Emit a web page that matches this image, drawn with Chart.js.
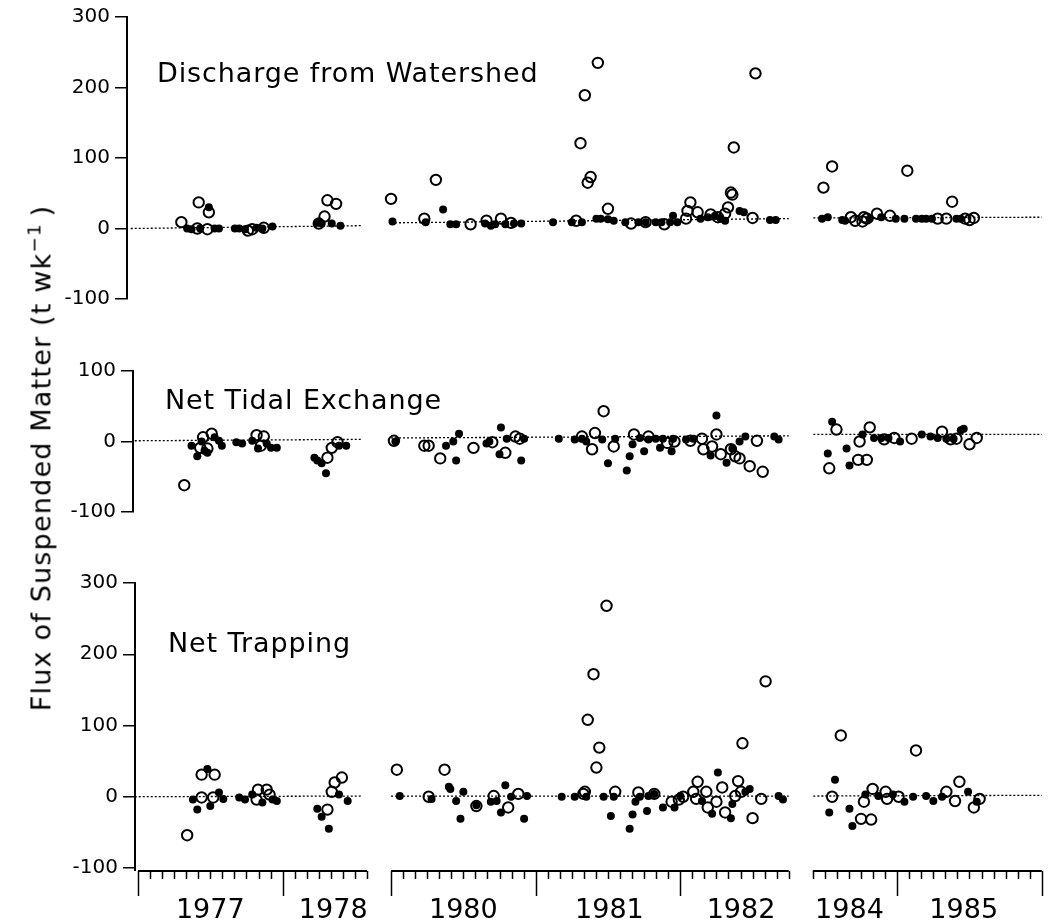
<!DOCTYPE html>
<html>
<head>
<meta charset="utf-8">
<script src="https://cdn.jsdelivr.net/npm/chart.js@4.4.1/dist/chart.umd.min.js"></script>
<style>
  body { margin: 0; background: #fff; width: 1051px; height: 921px; position: relative; overflow: hidden; }
  canvas { position: absolute; left: 0; }
  .label { position: absolute; font-family: 'DejaVu Sans', sans-serif; font-weight: normal; color: #000; white-space: nowrap; line-height: 1; }
  .panel-title { font-size: 27px; letter-spacing: 0.9px; }
  #ytitle { font-size: 27px; letter-spacing: 1.2px; left: 40px; top: 458px; transform: translate(-50%, -50%) rotate(-90deg); }
  #ytitle sup { font-size: 0.68em; vertical-align: 0.55em; }
</style>
</head>
<body>
<canvas id="p1" width="1051" height="320" style="top:0px"></canvas>
<canvas id="p2" width="1051" height="180" style="top:350px"></canvas>
<canvas id="p3" width="1051" height="361" style="top:560px"></canvas>

<div class="label panel-title" style="left:157px; top:59px">Discharge from Watershed</div>
<div class="label panel-title" style="left:165px; top:386px">Net Tidal Exchange</div>
<div class="label panel-title" style="left:168px; top:629px">Net Trapping</div>
<div class="label" id="ytitle">Flux of Suspended Matter (t wk<sup>&minus;1</sup>&thinsp;)</div>

<script>
// [decimal year, t per week]
const dischargeOpen = [
  [1977.30, 9], [1977.41, 0], [1977.42, 37], [1977.48, -1], [1977.49, 23], [1977.76, -3], [1977.79, -1], [1977.87, 1],
  [1978.25, 7], [1978.29, 17], [1978.31, 40], [1978.37, 35],
  [1980.00, 42], [1980.23, 14], [1980.31, 69], [1980.55, 6], [1980.66, 11], [1980.76, 14], [1980.83, 8],
  [1981.28, 11], [1981.31, 121], [1981.34, 189], [1981.36, 65], [1981.38, 73], [1981.43, 235], [1981.50, 28],
  [1981.66, 7], [1981.76, 9], [1981.89, 6], [1982.04, 14], [1982.05, 25], [1982.07, 37], [1982.12, 23], [1982.21, 20],
  [1982.26, 16], [1982.31, 21], [1982.33, 30], [1982.35, 51], [1982.36, 48], [1982.37, 115], [1982.50, 15], [1982.52, 220],
  [1984.49, 58], [1984.55, 88], [1984.68, 16], [1984.71, 11], [1984.76, 10], [1984.77, 16], [1984.79, 14], [1984.86, 21],
  [1984.95, 18], [1985.07, 82], [1985.28, 14], [1985.34, 14], [1985.38, 38], [1985.47, 14], [1985.50, 12], [1985.53, 15]
];
const dischargeFilled = [
  [1977.34, 0], [1977.37, -1], [1977.43, 0], [1977.49, 30], [1977.53, 0], [1977.56, 0], [1977.67, 0], [1977.70, 0],
  [1977.74, -1], [1977.82, 1], [1977.86, 0], [1977.93, 3], [1978.24, 8], [1978.27, 7], [1978.34, 7], [1978.40, 4],
  [1980.01, 10], [1980.24, 9], [1980.36, 27], [1980.41, 6], [1980.45, 6], [1980.65, 7], [1980.69, 4], [1980.72, 6],
  [1980.79, 6], [1980.85, 7], [1980.90, 7], [1981.12, 9], [1981.25, 9], [1981.32, 9], [1981.42, 14], [1981.45, 14],
  [1981.50, 13], [1981.54, 11], [1981.62, 9], [1981.71, 9], [1981.76, 9], [1981.83, 9], [1981.87, 9], [1981.93, 9],
  [1981.95, 18], [1981.98, 9], [1982.14, 14], [1982.19, 16], [1982.24, 18], [1982.28, 14], [1982.31, 11], [1982.41, 25],
  [1982.44, 23], [1982.62, 12], [1982.66, 12],
  [1984.48, 14], [1984.52, 16], [1984.62, 12], [1984.64, 11], [1984.81, 14], [1984.89, 16], [1984.99, 14], [1985.05, 14],
  [1985.13, 14], [1985.17, 14], [1985.20, 14], [1985.24, 14], [1985.41, 14], [1985.44, 14]
];

const tidalOpen = [
  [1977.32, -62], [1977.43, -9], [1977.45, 6], [1977.48, -10], [1977.51, 11], [1977.82, 9], [1977.85, -6], [1977.87, 7],
  [1978.31, -23], [1978.34, -9], [1978.38, -1],
  [1980.02, 1], [1980.23, -6], [1980.26, -6], [1980.34, -24], [1980.57, -9], [1980.70, -1], [1980.79, -16], [1980.86, 7],
  [1980.89, 4], [1981.32, 7], [1981.41, 12], [1981.39, -11], [1981.47, 43], [1981.54, -7], [1981.68, 10], [1981.78, 7],
  [1981.91, -2], [1981.96, 0], [1982.07, 1], [1982.15, 4], [1982.16, -11], [1982.22, -7], [1982.25, 10], [1982.28, -18],
  [1982.35, -11], [1982.38, -21], [1982.41, -24], [1982.48, -35], [1982.53, 1], [1982.57, -43],
  [1984.53, -38], [1984.58, 17], [1984.73, -26], [1984.74, 0], [1984.79, -26], [1984.81, 20], [1984.91, 3], [1984.98, 5],
  [1985.10, 4], [1985.31, 14], [1985.37, 3], [1985.41, 4], [1985.50, -4], [1985.55, 5]
];
const tidalFilled = [
  [1977.37, -6], [1977.41, -21], [1977.44, 0], [1977.46, -13], [1977.48, -16], [1977.53, 6], [1977.56, 1], [1977.58, -6],
  [1977.68, -1], [1977.72, -3], [1977.79, 1], [1977.83, -10], [1977.89, -3], [1977.92, -9], [1977.96, -9],
  [1978.22, -23], [1978.24, -27], [1978.27, -31], [1978.30, -45], [1978.39, -6], [1978.44, -6],
  [1980.03, 0], [1980.38, -6], [1980.43, 0], [1980.45, -27], [1980.47, 11], [1980.66, -3], [1980.68, 0], [1980.75, -18],
  [1980.76, 20], [1980.80, 4], [1980.90, -27], [1980.92, 4], [1981.16, 4], [1981.27, 3], [1981.32, 4], [1981.35, 0],
  [1981.46, 3], [1981.50, -31], [1981.55, 4], [1981.63, -41], [1981.65, -21], [1981.67, -4], [1981.72, 5], [1981.75, -14],
  [1981.78, 3], [1981.83, 4], [1981.86, -9], [1981.88, 4], [1981.94, -14], [1981.95, 4], [1982.04, 3], [1982.09, 4],
  [1982.21, -20], [1982.25, 37], [1982.32, -30], [1982.36, -10], [1982.41, 0], [1982.45, 7], [1982.65, 7], [1982.68, 3],
  [1984.52, -17], [1984.55, 28], [1984.65, -10], [1984.67, -34], [1984.76, 10], [1984.84, 5], [1984.89, 5], [1984.94, 5],
  [1985.02, 0], [1985.17, 10], [1985.23, 7], [1985.28, 5], [1985.34, 4], [1985.39, 4], [1985.44, 16], [1985.46, 18]
];

const trappingOpen = [
  [1977.34, -54], [1977.44, 31], [1977.53, 31], [1977.44, -1], [1977.52, -1], [1977.82, -4], [1977.83, 10], [1977.89, 10],
  [1977.91, 3], [1978.31, -18], [1978.34, 7], [1978.36, 20], [1978.41, 27],
  [1980.04, 38], [1980.26, 0], [1980.37, 38], [1980.59, -13], [1980.71, 1], [1980.81, -15], [1980.88, 4],
  [1981.33, 4], [1981.34, 7], [1981.36, 108], [1981.40, 172], [1981.42, 41], [1981.44, 69], [1981.49, 268], [1981.55, 7],
  [1981.71, 6], [1981.82, 4], [1981.94, -7], [1981.99, -4], [1982.02, 0], [1982.09, 7], [1982.11, -3], [1982.12, 21],
  [1982.18, 7], [1982.19, -15], [1982.25, -7], [1982.29, 13], [1982.31, -22], [1982.38, 1], [1982.40, 22], [1982.42, 7],
  [1982.43, 75], [1982.50, -30], [1982.56, -3], [1982.59, 162],
  [1984.55, 0], [1984.61, 86], [1984.75, -31], [1984.77, -7], [1984.82, -32], [1984.83, 11], [1984.92, 7], [1984.93, -3],
  [1985.01, 0], [1985.13, 65], [1985.34, 7], [1985.40, -6], [1985.43, 21], [1985.53, -15], [1985.57, -3]
];
const trappingFilled = [
  [1977.38, -4], [1977.41, -18], [1977.48, 39], [1977.50, -13], [1977.56, 6], [1977.59, -3], [1977.70, -1], [1977.74, -4],
  [1977.79, 3], [1977.86, -8], [1977.93, -4], [1977.96, -6], [1978.24, -17], [1978.27, -28], [1978.32, -45], [1978.39, 3],
  [1978.45, -6],
  [1980.06, 1], [1980.28, -3], [1980.40, 14], [1980.41, 11], [1980.45, -6], [1980.48, -31], [1980.50, 7], [1980.59, -12],
  [1980.69, -7], [1980.73, -6], [1980.76, -22], [1980.79, 16], [1980.83, 0], [1980.92, -31], [1980.94, 1],
  [1981.18, 0], [1981.27, 0], [1981.35, 0], [1981.47, 0], [1981.52, -27], [1981.54, 0], [1981.65, -45], [1981.67, -25],
  [1981.69, -7], [1981.72, 0], [1981.77, -20], [1981.78, 1], [1981.82, 4], [1981.88, -15], [1981.96, -15], [1982.00, 1],
  [1982.15, -6], [1982.22, -24], [1982.26, 34], [1982.35, -30], [1982.36, -10], [1982.45, 7], [1982.48, 11], [1982.68, 1],
  [1982.71, -4],
  [1984.53, -22], [1984.57, 24], [1984.67, -17], [1984.69, -41], [1984.78, 3], [1984.87, 1], [1984.97, 3], [1985.05, -7],
  [1985.11, 0], [1985.20, 1], [1985.25, -6], [1985.31, 0], [1985.49, 7], [1985.55, -7]
];

// dotted reference line, value at start and end of each record period
const lineStarts = [1976.95, 1980.0, 1984.42];
const lineEnds = [1978.55, 1982.75, 1986.0];
const dischargeLineFrom = [0, 8, 15];
const dischargeLineTo = [4, 14, 16];
const tidalLineFrom = [1, 5, 10];
const tidalLineTo = [3, 8, 10];
const trappingLineFrom = [0, 1, 1];
const trappingLineTo = [1, 1, 2];

// broken time axis: record periods (months counted from Jan 1977)
const periodStartMonth = [0, 36, 89];
const periodEndMonth = [19, 69, 108];
const periodGap = 2;

const yearLabels = ['1977', '1978', '1980', '1981', '1982', '1984', '1985'];
const yearLabelAt = [1977.5, 1978.35, 1980.5, 1981.51, 1982.42, 1984.67, 1985.46];

const FONT = "'DejaVu Sans', sans-serif";
const AXIS_X0 = 138, AXIS_X1 = 1044, PLOT_RIGHT = 1046;

// offsets that squeeze the gaps out of the time axis
const periodOffset = [];
let used = 0;
periodStartMonth.forEach((s, i) => {
  periodOffset.push(s - used);
  used += periodEndMonth[i] - s + periodGap;
});
const axisLength = used - periodGap;
const pxPerMonth = (AXIS_X1 - AXIS_X0) / axisLength;

function toAxis(year) {
  const m = (year - 1977) * 12;
  let k = 0;
  for (let i = 1; i < periodStartMonth.length; i++) {
    if (m > (periodEndMonth[i - 1] + periodStartMonth[i]) / 2) k = i;
  }
  return m - periodOffset[k];
}

const pts = arr => arr.map(([d, v]) => ({ x: toAxis(d), y: v }));

function refLine(from, to) {
  const out = [];
  lineStarts.forEach((s, i) => {
    out.push({ x: toAxis(s), y: from[i] });
    out.push({ x: toAxis(lineEnds[i]), y: to[i] });
    out.push({ x: toAxis(lineEnds[i]) + 0.5, y: null });
  });
  return out;
}

const bottomAxis = {
  id: 'bottomAxis',
  afterDraw(chart) {
    if (!chart.options.plugins.bottomAxis.show) return;
    const { ctx, chartArea } = chart;
    const xs = chart.scales.x;
    const y0 = chartArea.bottom + 3;
    ctx.save();
    ctx.strokeStyle = '#000';
    ctx.lineWidth = 2;
    ctx.beginPath();
    ctx.moveTo(chartArea.left, chartArea.bottom);
    ctx.lineTo(chartArea.left, y0);
    ctx.stroke();
    periodStartMonth.forEach((s, i) => {
      const e = periodEndMonth[i];
      ctx.lineWidth = 2;
      ctx.beginPath();
      ctx.moveTo(xs.getPixelForValue(s - periodOffset[i]), y0);
      ctx.lineTo(xs.getPixelForValue(e - periodOffset[i]), y0);
      ctx.stroke();
      ctx.lineWidth = 1.5;
      for (let m = s; m <= e; m++) {
        const px = Math.round(xs.getPixelForValue(m - periodOffset[i])) + 0.5;
        const len = m % 12 === 0 ? 25 : 8;
        ctx.beginPath();
        ctx.moveTo(px, y0);
        ctx.lineTo(px, y0 + len);
        ctx.stroke();
      }
    });
    ctx.fillStyle = '#000';
    ctx.font = '27px ' + FONT;
    ctx.textAlign = 'center';
    ctx.textBaseline = 'alphabetic';
    yearLabels.forEach((t, i) => {
      ctx.fillText(t, xs.getPixelForValue(toAxis(yearLabelAt[i])), y0 + 47);
    });
    ctx.restore();
  }
};

function makePanel(id, open, filled, lineFrom, lineTo, yMin, yMax, axisLeft, padTop, padBottom, withTime) {
  const xMin = -(AXIS_X0 - axisLeft) / pxPerMonth;
  const xMax = xMin + (PLOT_RIGHT - axisLeft) / pxPerMonth;
  return new Chart(document.getElementById(id), {
    type: 'scatter',
    data: {
      datasets: [
        {
          type: 'line', data: refLine(lineFrom, lineTo), borderColor: '#000', borderWidth: 1.3,
          borderDash: [2, 2], pointRadius: 0, spanGaps: false, fill: false
        },
        {
          data: pts(filled), pointRadius: 4, pointHoverRadius: 4, backgroundColor: '#000', borderWidth: 0
        },
        {
          data: pts(open), pointRadius: 5.2, pointHoverRadius: 5.2, backgroundColor: 'rgba(0,0,0,0)',
          borderColor: '#000', borderWidth: 2
        }
      ]
    },
    options: {
      responsive: false,
      animation: false,
      devicePixelRatio: 1,
      layout: { padding: { top: padTop, bottom: padBottom, left: 0, right: 1051 - PLOT_RIGHT } },
      plugins: { legend: { display: false }, tooltip: { enabled: false }, bottomAxis: { show: withTime } },
      scales: {
        x: { type: 'linear', display: false, min: xMin, max: xMax },
        y: {
          min: yMin, max: yMax,
          afterFit: s => { s.width = axisLeft; },
          ticks: { stepSize: 100, color: '#000', padding: 5, font: { family: FONT, size: 20 } },
          grid: { drawOnChartArea: false, color: '#000', lineWidth: 1.5, tickLength: 12 },
          border: { color: '#000', width: 2 }
        }
      }
    },
    plugins: [bottomAxis]
  });
}

makePanel('p1', dischargeOpen, dischargeFilled, dischargeLineFrom, dischargeLineTo, -100, 300, 127, 15, 21, false);
makePanel('p2', tidalOpen, tidalFilled, tidalLineFrom, tidalLineTo, -100, 100, 133, 21, 18, false);
makePanel('p3', trappingOpen, trappingFilled, trappingLineFrom, trappingLineTo, -100, 300, 135, 23, 53, true);
</script>
</body>
</html>
